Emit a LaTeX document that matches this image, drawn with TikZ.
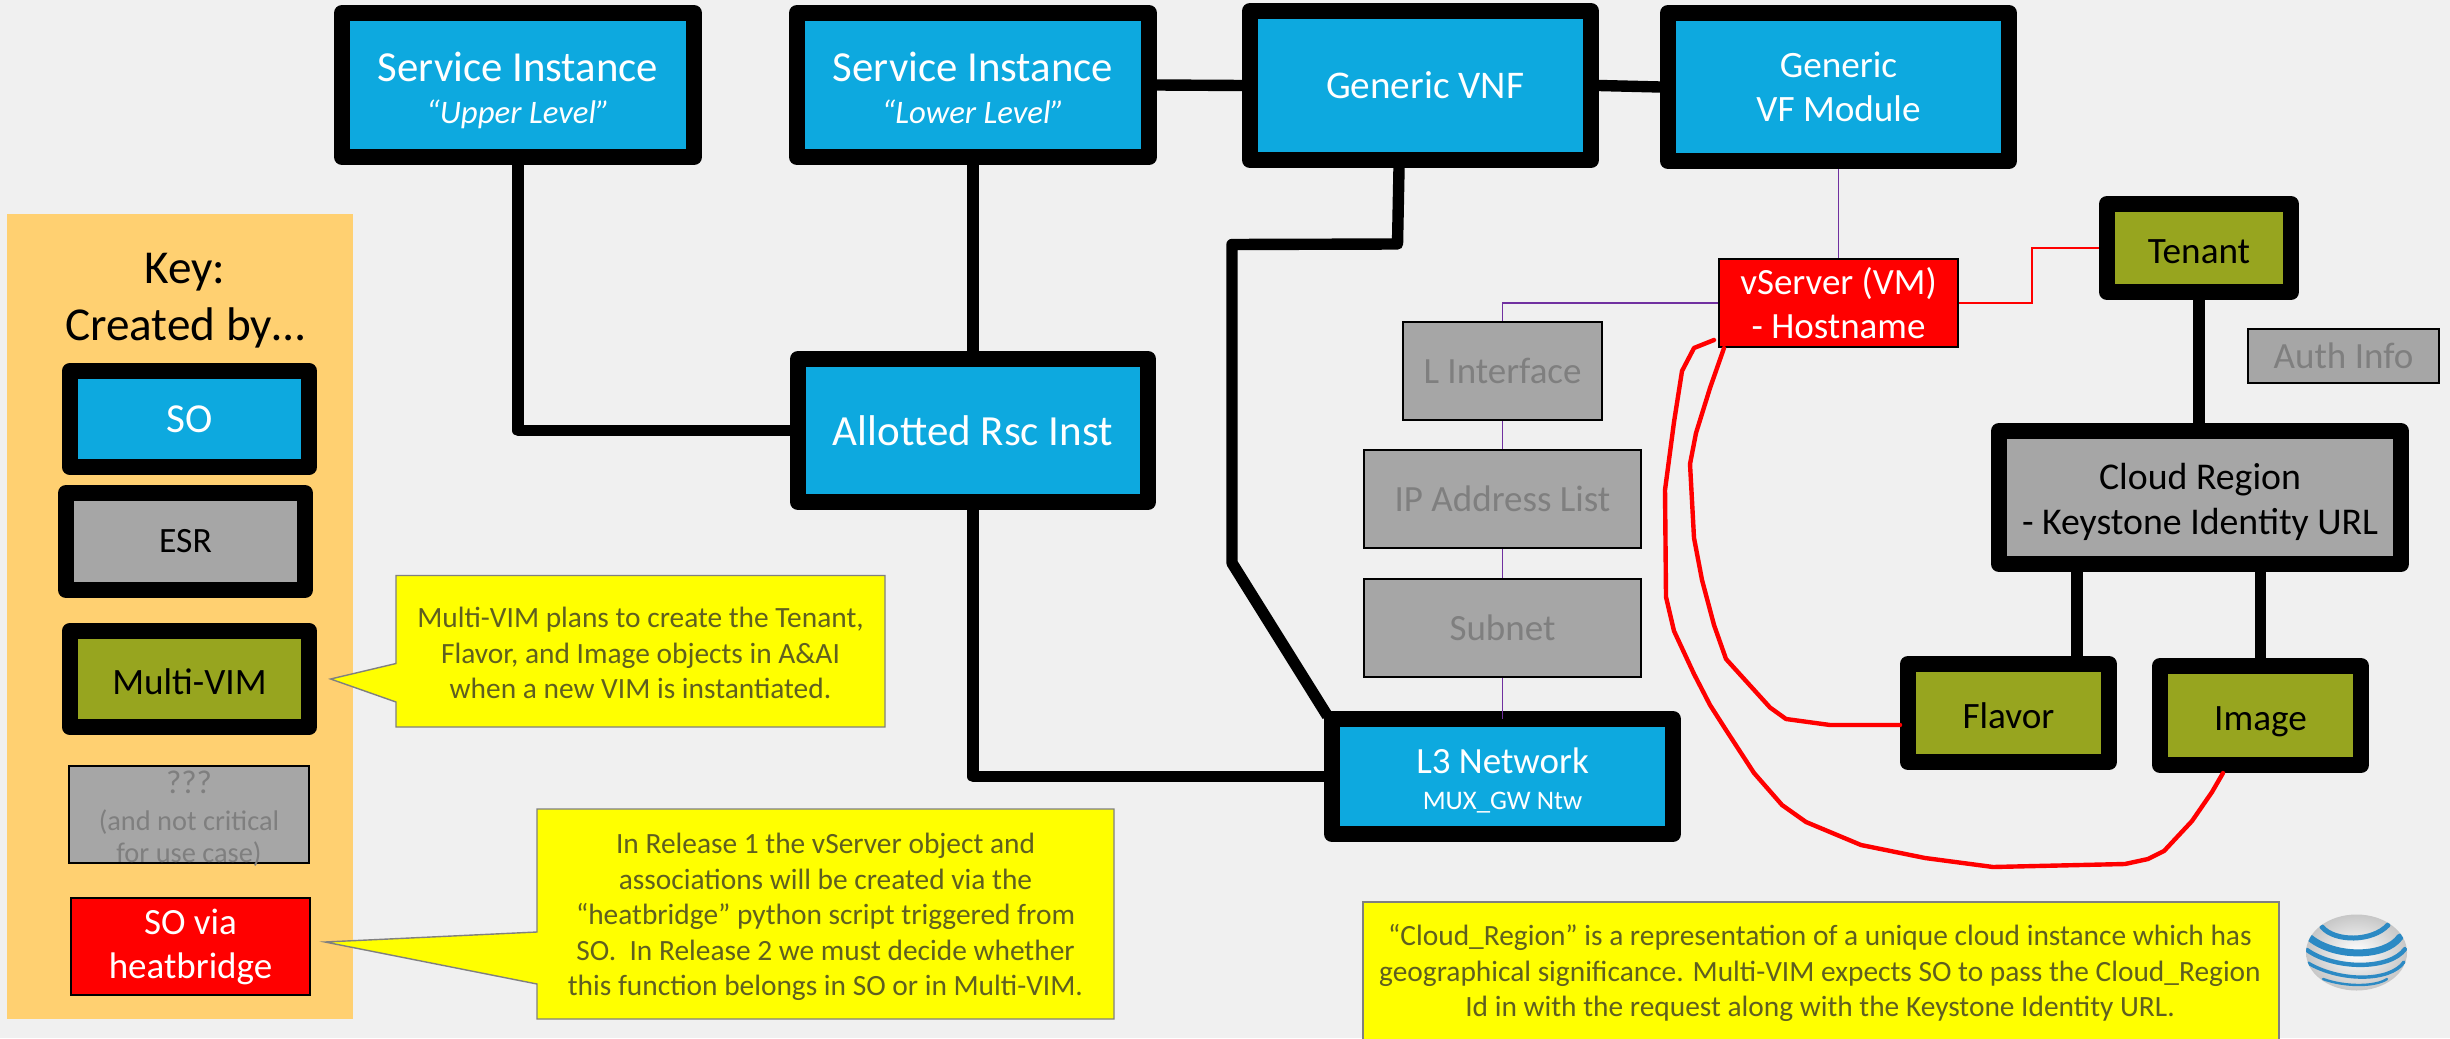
\documentclass[tikz,border=0pt]{standalone}
\usepackage{fontspec}
\setmainfont{Carlito}
\definecolor{bgc}{HTML}{F0F0F0}
\definecolor{soblue}{HTML}{0DA9DF}
\definecolor{olive}{HTML}{97A51F}
\definecolor{grayb}{HTML}{A6A6A6}
\definecolor{keyc}{HTML}{FFD071}
\definecolor{fade}{HTML}{7F7F7F}
\definecolor{calltxt}{HTML}{5F5F20}
\definecolor{purp}{HTML}{7030A0}
\definecolor{attblue}{HTML}{2C8AC4}
\definecolor{yel}{HTML}{FFFF00}
\definecolor{redc}{HTML}{FF0000}
\tikzset{
 x=0.5pt,y=-0.5pt,
 fatbox/.style={draw=black,line width=8pt,line join=round,align=center,inner sep=0pt},
 thinbox/.style={draw=black,line width=1pt,align=center,inner sep=0pt},
 sobox/.style={fatbox,fill=soblue,text=white,font=\fontsize{21.4}{26}\selectfont},
 ovbox/.style={fatbox,fill=olive,text=black,text height=15pt,text depth=0pt,font=\fontsize{18.6}{22}\selectfont},
 grbox/.style={fatbox,fill=grayb,text=black,font=\fontsize{18.9}{22.6}\selectfont},
 fadebox/.style={thinbox,fill=grayb,text=fade,font=\fontsize{18.5}{22}\selectfont},
 redbox/.style={thinbox,fill=redc,text=white,font=\fontsize{18.5}{22}\selectfont},
 link/.style={draw=black,line width=5.7pt,line join=round},
 plink/.style={draw=purp,line width=0.8pt},
 rlink/.style={draw=redc,line width=1pt},
 rcurve/.style={draw=redc,line width=2.2pt,line join=round,line cap=round},
 calloutshape/.style={fill=yel,draw=black!50,line width=0.7pt},
 calltext/.style={text=calltxt,align=center,inner sep=0pt,font=\fontsize{14.7}{17.8}\selectfont},
 fatwh/.style 2 args={minimum width={(#1-16)*0.5pt},minimum height={(#2-16)*0.5pt}},
 thinwh/.style 2 args={minimum width={(#1-2)*0.5pt},minimum height={(#2-2)*0.5pt}},
 stripe/.style={draw=attblue,line cap=round},
}
\begin{document}
\begin{tikzpicture}
\useasboundingbox (0,0) rectangle (2450,1038);
\fill[bgc] (0,0) rectangle (2450,1038);
% key panel
\fill[keyc] (7,214) rectangle (353,1019);
\node[inner sep=0pt,align=center,font=\fontsize{23.6}{28.6}\selectfont] (keytitle) at (185,300.5) {Key:\\Created by…};
\node[sobox,fatwh={255}{112.5},font=\fontsize{20.6}{24}\selectfont] (kso) at (189.5,419) {SO};
\node[grbox,fatwh={255}{113},font=\fontsize{17.8}{22}\selectfont] (kesr) at (185.5,541.5) {ESR};
\node[ovbox,fatwh={255}{112.5}] (kmv) at (189.5,679) {Multi-VIM};
\node[thinbox,fill=grayb,thinwh={242}{99}] (kunk) at (189,814) {};
\node[text=fade,align=center,inner sep=0pt,font=\fontsize{14.2}{16.3}\selectfont] (kunktext) at (189,819) {{\fontsize{16.5}{17}\selectfont ???}\\[2pt](and not critical\\for use case)};
\node[redbox,thinwh={241}{99}] (khb) at (190.5,946.5) {SO via\\heatbridge};
% callouts
\draw[calloutshape] (396,575.5) -- (885,575.5) -- (885,727) -- (396,727) -- (396,702) -- (330.6,679) -- (396,663.5) -- cycle;
\node[calltext] (c1) at (640.5,653) {Multi-VIM plans to create the Tenant,\\Flavor, and Image objects in A\&AI\\when a new VIM is instantiated.};
\draw[calloutshape] (537,809) -- (1114,809) -- (1114,1019) -- (537,1019) -- (537,984) -- (325,942) -- (537,932) -- cycle;
\node[calltext] (c2) at (825.5,917) {In Release 1 the vServer object and\\associations will be created via the\\“heatbridge” python script triggered from\\SO.\ \ In Release 2 we must decide whether\\this function belongs in SO or in Multi-VIM.};
\draw[calloutshape] (1363,1040) -- (1363,902) -- (2279,902) -- (2279,1040);
\node[calltext] (c3) at (1820,973) {“Cloud\_Region” is a representation of a unique cloud instance which has\\geographical significance. Multi-VIM expects SO to pass the Cloud\_Region\\Id in with the request along with the Keystone Identity URL.};
% main nodes
\node[sobox,fatwh={368}{160}] (si1) at (518,85) {\rule{0pt}{21.7pt}Service Instance\\[-5pt]{\fontsize{16.4}{20}\selectfont\itshape\rule[-4pt]{0pt}{4pt}“Upper Level”}};
\node[sobox,fatwh={368}{160}] (si2) at (973,85) {\rule{0pt}{21.7pt}Service Instance\\[-5pt]{\fontsize{16.4}{20}\selectfont\itshape\rule[-4pt]{0pt}{4pt}“Lower Level”}};
\node[sobox,fatwh={357}{165},font=\fontsize{19.6}{22}\selectfont] (vnf) at (1420.5,85.5) {\hspace{4.5pt}Generic VNF};
\node[sobox,fatwh={357}{164},font=\fontsize{18.6}{22}\selectfont] (vf) at (1838.5,87) {Generic\\VF Module};
\node[sobox,fatwh={366}{159},font=\fontsize{21.5}{24}\selectfont] (ari) at (973,430.5) {Allotted Rsc Inst};
\node[sobox,fatwh={357}{131},font=\fontsize{18.5}{20}\selectfont] (l3) at (1502.5,776.5) {\rule{0pt}{16.6pt}L3 Network\\[-2pt]{\fontsize{13.4}{15}\selectfont MUX\_GW Ntw}};
\node[redbox,thinwh={241}{90}] (vs) at (1838.5,303) {vServer (VM)\\- Hostname};
\node[fadebox,thinwh={201}{100}] (lif) at (1502.5,371) {L Interface};
\node[fadebox,thinwh={279}{100}] (ip) at (1502.5,499) {IP Address List};
\node[fadebox,thinwh={279}{100}] (sub) at (1502.5,628) {Subnet};
\node[ovbox,fatwh={200}{104}] (ten) at (2199,248) {Tenant};
\node[fadebox,thinwh={193}{56}] (auth) at (2343.5,356) {Auth Info};
\node[grbox,fatwh={418}{149}] (cr) at (2200,497.5) {\rule{0pt}{17.7pt}Cloud Region\\- Keystone Identity URL};
\node[ovbox,fatwh={217}{114}] (fl) at (2008.5,713) {Flavor};
\node[ovbox,fatwh={217}{115}] (im) at (2260.5,715.5) {Image};
% connectors
\draw[link] (si1.south) |- (ari.west);
\draw[link] (si2.south) -- (ari.north);
\draw[link] (ari.south) |- (l3.west);
\draw[link] (si2.east) -- (vnf.west);
\draw[link] (vnf.east) -- (vf.west);
\draw[link] ([xshift=-10.75pt]vnf.south) -- ([xshift=-11.5pt,yshift=-38pt]vnf.south) -- (1232,244.5) -- (1232,563) -- ([xshift=1.75pt,yshift=-2.5pt]l3.north west);
\draw[plink] (vf.south) -- (vs.north);
\draw[plink] (vs.west) -| (lif.north);
\draw[plink] (lif.south) -- (ip.north);
\draw[plink] (ip.south) -- (sub.north);
\draw[plink] (sub.south) -- ([yshift=-4pt]l3.north);
\draw[rlink] (vs.east) -- (2032,303) |- (ten.west);
\draw[link] (ten.south) -- (cr.north -| ten.south);
\draw[link] ([xshift=34.25pt]fl.north) -- ([xshift=34.25pt]fl.north |- cr.south);
\draw[link] (cr.south -| im.north) -- (im.north);
\draw[rcurve] (fl.west |- 0,725) -- (1830,725) -- (1786,719) -- (1770,707.5) -- (1726,659) -- (1714,625) -- (1702,580) -- (1694,538) -- (1690,464) -- (1696,433) -- (1710,388) -- (1724,348);
\draw[rcurve] (2223,773) -- (2212,792) -- (2192,821) -- (2164,851) -- (2148,859) -- (2125,864) -- (1993,867) -- (1925,858) -- (1861,845) -- (1806,822) -- (1782,805) -- (1754,773) -- (1726,730) -- (1710,705) -- (1694,674) -- (1674,631) -- (1666,597) -- (1665,490) -- (1674,422) -- (1682,371) -- (1694,348) -- (1714,340);
% logo
\shade[inner color=white,outer color=black!22] (2356.5,952.5) circle [x radius=50.5,y radius=38];
\begin{scope}
\clip (2356.5,952.5) circle [x radius=50.5,y radius=38];
\draw[stripe,line width=2.5pt] (2322,927) .. controls (2335,942) and (2372,942) .. (2388,925);
\draw[stripe,line width=3.5pt] (2310,938) .. controls (2335,958) and (2385,958) .. (2400,937);
\draw[stripe,line width=2.2pt] (2307,950) .. controls (2335,970) and (2390,970) .. (2405,949);
\draw[stripe,line width=1.7pt] (2308,963) .. controls (2340,982) and (2390,982) .. (2404,962);
\draw[stripe,line width=1.2pt] (2323,979) .. controls (2345,987) and (2375,987) .. (2387,979);
\end{scope}
\end{tikzpicture}
\end{document}
